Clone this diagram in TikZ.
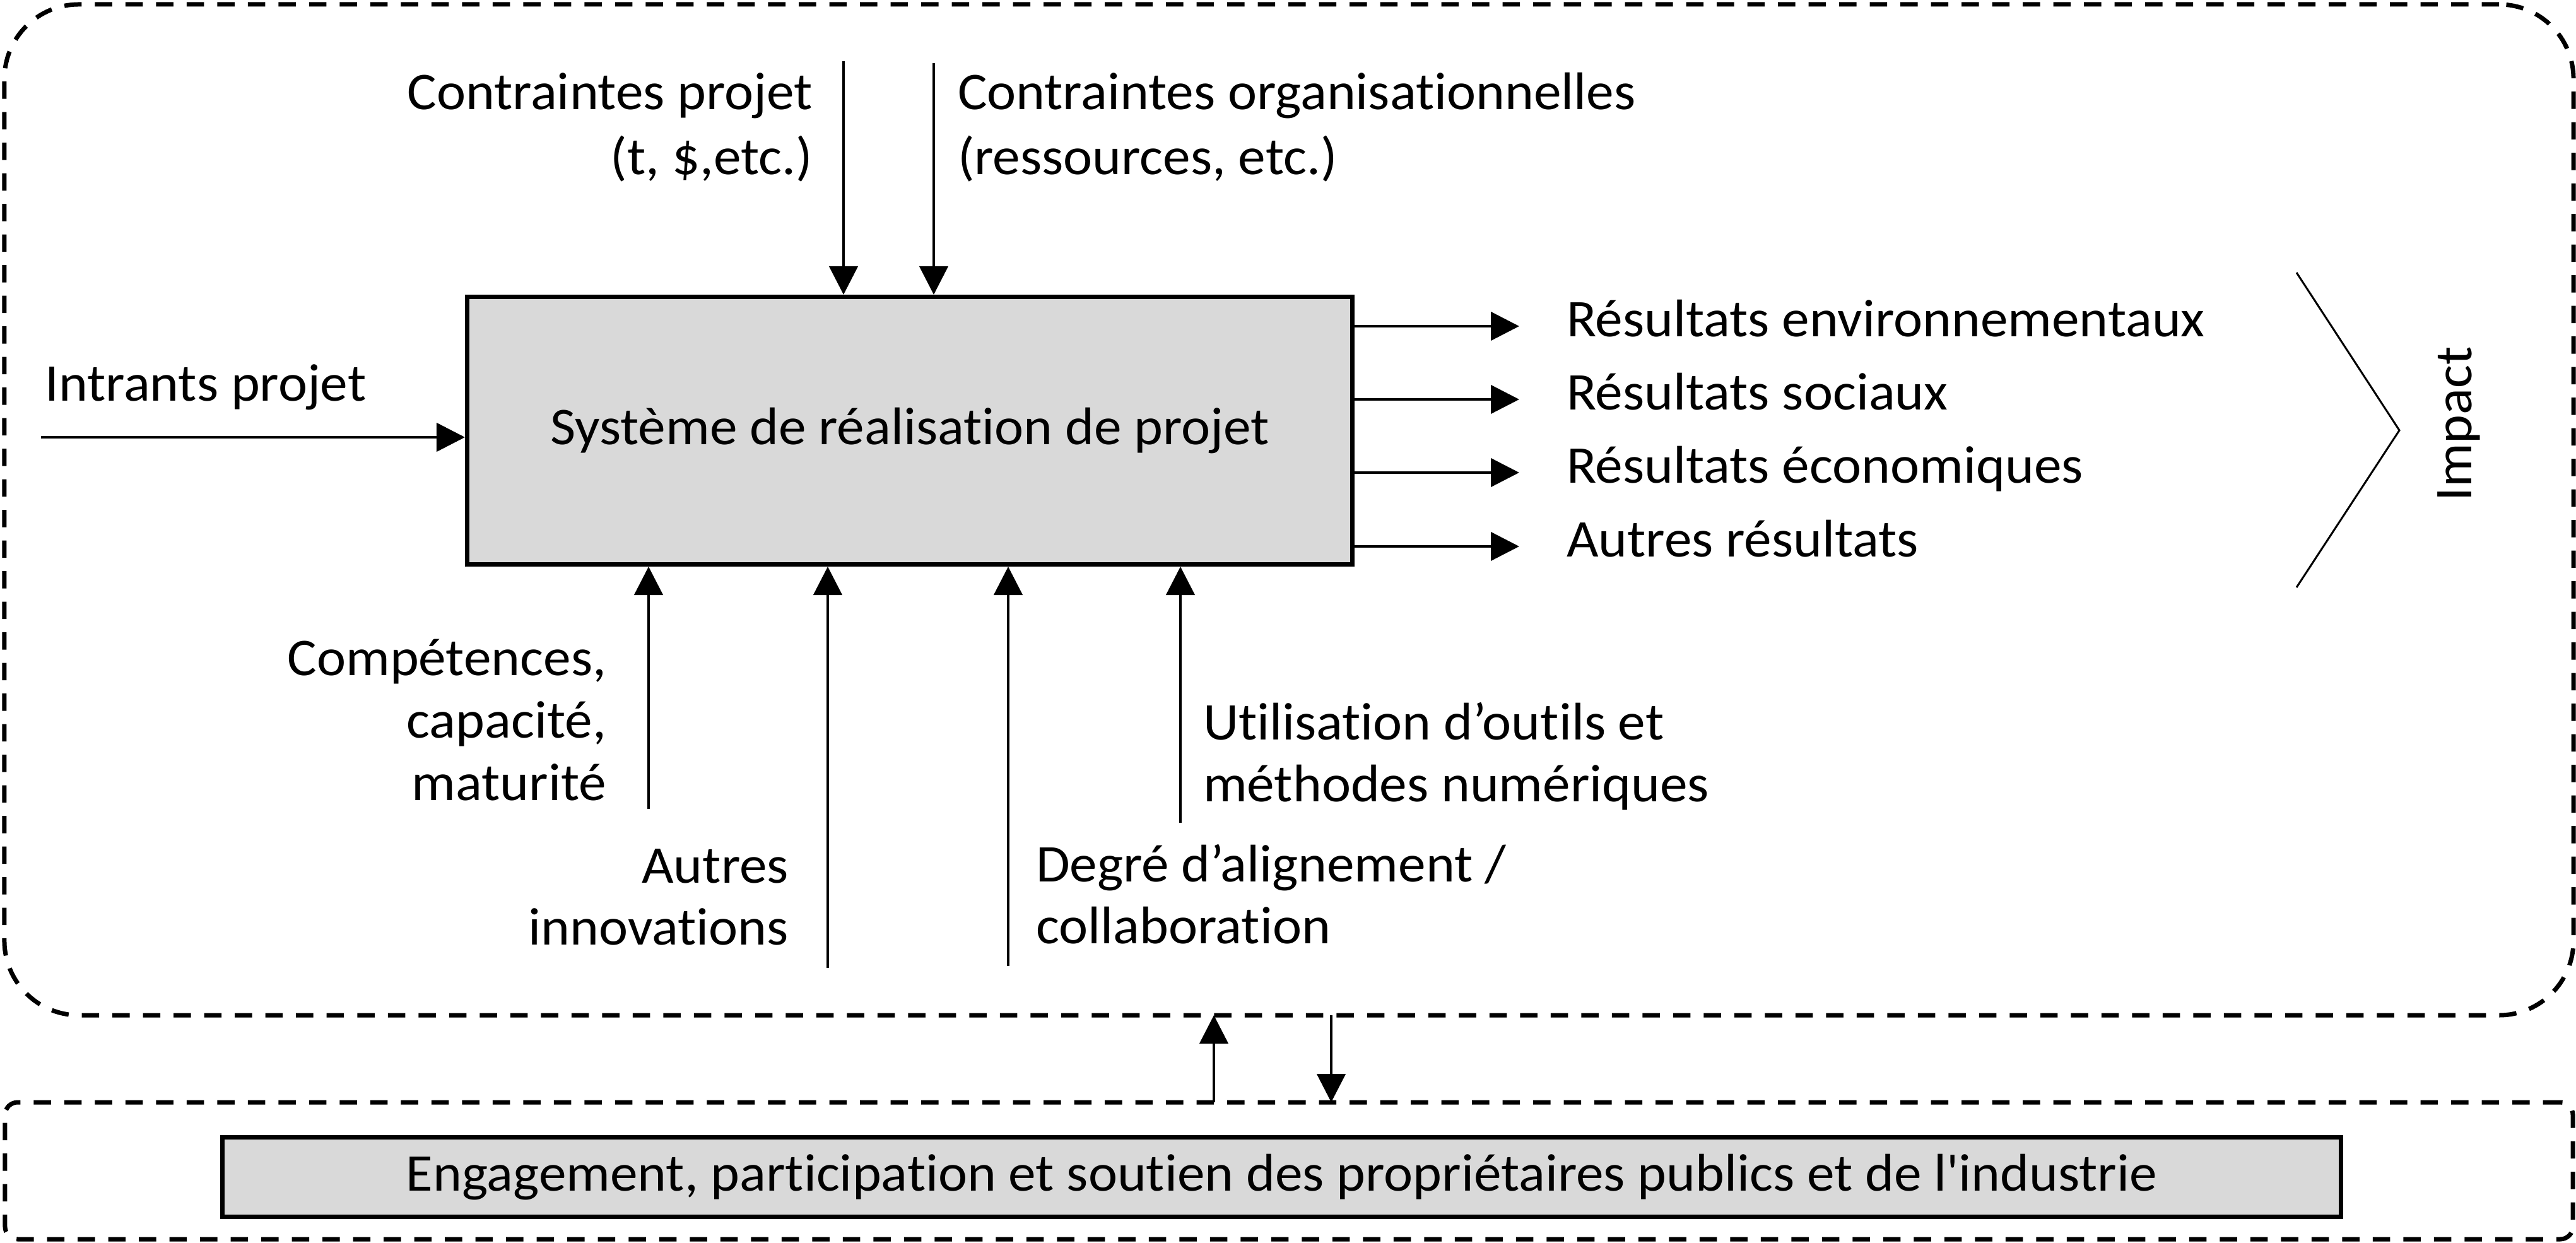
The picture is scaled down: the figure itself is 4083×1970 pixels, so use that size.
\documentclass[tikz,border=0pt]{standalone}
\usepackage{fontspec}
\setmainfont{Carlito}
\newfontfamily\cf{Carlito}[Ligatures=NoCommon, FakeStretch=1.04]
\usetikzlibrary{arrows.meta}
\definecolor{boxgray}{HTML}{D9D9D9}
\begin{document}
\begin{tikzpicture}[x=0.2pt,y=-0.2pt,
  txt/.style={inner sep=0pt, font=\cf\fontsize{16.8}{19.7}\selectfont},
  toptxt/.style={inner sep=0pt, font=\cf\fontsize{16.8}{20.6}\selectfont},
  arr/.style={line width=0.9pt, -{Triangle[length=9pt,width=9pt]}},
  graybox/.style={draw, line width=1.4pt, fill=boxgray, inner sep=0pt, font=\cf\fontsize{16.8}{19.7}\selectfont},
  frame/.style={draw, line width=1.4pt, dash pattern=on 5.5pt off 4.2pt, inner sep=0pt, outer sep=0pt},
  chev/.style={line width=0.6pt}]
\useasboundingbox (0,0) rectangle (4083,1970);

% frames
\node[frame, rounded corners=23.6pt, minimum width=814.4pt, minimum height=320.4pt] (outer) at (2043,808) {};
\node[frame, rounded corners=4pt, minimum width=814pt, minimum height=43.4pt] (lower) at (2043,1855.5) {};

% main box
\node[graybox, minimum width=280.6pt, minimum height=84.8pt] (sys) at (1442,682.5) {Système de réalisation de projet};

% bottom box
\node[graybox, minimum width=671.6pt, minimum height=25.2pt] (eng) at (2031.5,1865.5) {Engagement, participation et soutien des propriétaires publics et de l'industrie};

% top constraints
\node[toptxt, anchor=base east] (ctp) at (1289,174) {\begin{tabular}[t]{@{}r@{}}Contraintes projet\\(t, \$,etc.)\end{tabular}};
\node[toptxt, anchor=base west] (cto) at (1517,174) {\begin{tabular}[t]{@{}l@{}}Contraintes organisationnelles\\(ressources, etc.)\end{tabular}};
\coordinate (t1) at (1337,97);
\coordinate (t2) at (1480,100);
\draw[arr] (t1) -- (t1 |- sys.north);
\draw[arr] (t2) -- (t2 |- sys.north);

% inputs
\node[txt, anchor=base west] (intr) at (70,636) {Intrants projet};
\coordinate (iin) at (65,693);
\draw[arr] (iin) -- (iin -| sys.west);

% outputs
\coordinate (o1) at (2408,517);
\coordinate (o2) at (2408,633);
\coordinate (o3) at (2408,749);
\coordinate (o4) at (2408,866);
\draw[arr] (o1 -| sys.east) -- (o1);
\draw[arr] (o2 -| sys.east) -- (o2);
\draw[arr] (o3 -| sys.east) -- (o3);
\draw[arr] (o4 -| sys.east) -- (o4);
\node[txt, anchor=base west] (r1) at (2482,534) {Résultats environnementaux};
\node[txt, anchor=base west] (r2) at (2482,650) {Résultats sociaux};
\node[txt, anchor=base west] (r3) at (2482,766) {Résultats économiques};
\node[txt, anchor=base west] (r4) at (2482,882) {Autres résultats};

% impact chevron
\draw[chev] (3640,432) -- (3803,682) -- (3640,931);
\node[txt, rotate=90, anchor=base] (imp) at (3917,672) {Impact};

% bottom enablers
\coordinate (b1) at (1028,1282);
\coordinate (b2) at (1312,1534);
\coordinate (b3) at (1598,1531);
\coordinate (b4) at (1871,1304);
\draw[arr] (b1) -- (b1 |- sys.south);
\draw[arr] (b2) -- (b2 |- sys.south);
\draw[arr] (b3) -- (b3 |- sys.south);
\draw[arr] (b4) -- (b4 |- sys.south);
\node[txt, anchor=base east] (comp) at (962,1071) {\begin{tabular}[t]{@{}r@{}}Compétences,\\capacité,\\maturité\end{tabular}};
\node[txt, anchor=base east] (autr) at (1251,1399) {\begin{tabular}[t]{@{}r@{}}Autres\\innovations\end{tabular}};
\node[txt, anchor=base west] (degr) at (1641,1397) {\begin{tabular}[t]{@{}l@{}}Degré d’alignement /\\collaboration\end{tabular}};
\node[txt, anchor=base west] (util) at (1906,1172) {\begin{tabular}[t]{@{}l@{}}Utilisation d’outils et\\méthodes numériques\end{tabular}};

% links between frames
\coordinate (cu) at (1924,0);
\coordinate (cd) at (2110,0);
\draw[arr] (cu |- lower.north) -- (cu |- outer.south);
\draw[arr] (cd |- outer.south) -- (cd |- lower.north);
\end{tikzpicture}
\end{document}
